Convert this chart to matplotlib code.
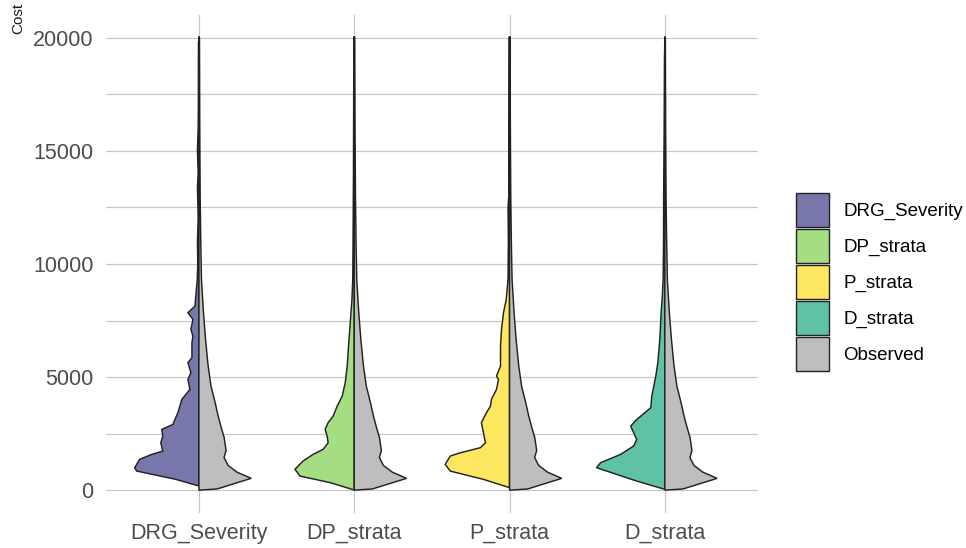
import numpy as np
import matplotlib
matplotlib.use("Agg")
import matplotlib.pyplot as plt
from matplotlib.patches import Patch

# ============================================================================
# DATOS (coste y densidad relativa de cada mitad)
# ============================================================================

modelos = ["DRG_Severity", "DP_strata", "P_strata", "D_strata"]
colores = ["#7877ac", "#a4dd82", "#fde660", "#5fc2a7"]
color_observado = "#bebebe"

coste_drg = [190, 485, 852, 1000, 1370, 1590, 1735, 2100, 2400, 2690, 2910,
             3430, 4020, 4460, 4900, 5200, 5640, 5860, 6520, 6810, 7110, 7550,
             7850, 8140, 9320, 10000, 11000, 12000, 13400, 14000, 15000,
             16000, 17000, 19800, 19900]
dens_drg = [0, 23, 62, 64, 59, 47, 36, 38, 36, 37, 26,
            21, 17, 9, 11, 8, 11, 7, 7, 6, 8, 6,
            11, 4, 1.7, 1.2, 1.5, 0.8, 1.5, 0.8, 1.5,
            0.8, 0.6, 0.5, 0]

coste_dp = [15, 340, 630, 930, 1295, 1590, 1810, 2100, 2400, 2690, 2990,
            3280, 3720, 4160, 4750, 5490, 6370, 7400, 8430, 9320, 11000,
            14000, 20000, 20050]
dens_dp = [0, 24, 54, 59, 51, 41, 31, 26, 27, 29, 26,
           21, 17, 12, 9, 7, 5.7, 4, 2.3, 1.5, 1.2,
           0.8, 0.4, 0]

coste_p = [120, 485, 850, 1150, 1515, 1660, 1885, 2100, 2550, 2990, 3430,
           3720, 4020, 4460, 4900, 5050, 5490, 6370, 7110, 7850, 8430, 9320,
           11000, 12500, 13000, 20000, 20050]
dens_p = [0, 26, 59, 64, 59, 49, 29, 24, 26, 28, 23,
          19, 18, 13, 11, 13, 9, 9, 8, 6, 3.3, 1.5,
          1.2, 1.5, 0.8, 0.4, 0]

coste_d = [45, 410, 1000, 1220, 1590, 1960, 2250, 2840, 3130, 3650, 4160,
           4600, 5050, 5640, 6670, 7850, 8430, 9320, 11000, 13000, 16000,
           19000, 20000]
dens_d = [0, 28, 68, 64, 44, 31, 28, 34, 28, 14, 13,
          11, 9, 7, 5, 3.7, 2.7, 1.7, 1.3, 1.2, 0.7,
          0.4, 0]

# Mitad derecha: costes observados (la misma en los cuatro violines)
coste_obs = [10, 60, 530, 800, 1100, 1450, 1760, 2350, 2800, 3300, 3900,
             4600, 5550, 6700, 7850, 9320, 11000, 13000, 16000, 20000, 20050]
dens_obs = [0, 18, 52, 38, 29, 25, 27, 25, 22, 19, 16,
            12, 9, 6.5, 4.5, 2.5, 1.8, 1.2, 0.8, 0.5, 0]

costes_modelo = [coste_drg, coste_dp, coste_p, coste_d]
dens_modelo = [dens_drg, dens_dp, dens_p, dens_d]

y_ticks = [0, 5000, 10000, 15000, 20000]
y_minor = [2500, 7500, 12500, 17500]


# ============================================================================
# FIGURA
# ============================================================================

def media_violin(ax, centro, coste, dens, lado, color, escala):
    """Dibuja media violín (lado=-1 izquierda, +1 derecha)."""
    coste = np.asarray(coste, dtype=float)
    ancho = np.asarray(dens, dtype=float) * escala
    xs = np.concatenate([[centro], centro + lado * ancho, [centro]])
    ys = np.concatenate([[coste[0]], coste, [coste[-1]]])
    ax.fill(xs, ys, facecolor=color, edgecolor="#222222", linewidth=1.05,
            zorder=3, joinstyle="miter")


fig = plt.figure(figsize=(9.66, 5.48), dpi=100)
ax = fig.add_axes([0.1095, 0.0639, 0.6752, 0.9087])

max_dens = max(max(d) for d in dens_modelo + [dens_obs])
escala = 0.44 / max_dens

for i, (nombre, color) in enumerate(zip(modelos, colores)):
    centro = i + 1
    media_violin(ax, centro, costes_modelo[i], dens_modelo[i], -1, color, escala)
    media_violin(ax, centro, coste_obs, dens_obs, 1, color_observado, escala)

ax.set_xlim(0.4, 4.6)
ax.set_ylim(-1000, 21000)
ax.set_xticks(range(1, len(modelos) + 1))
ax.set_xticklabels(modelos)
ax.set_yticks(y_ticks)
ax.set_yticks(y_minor, minor=True)

for s in ax.spines.values():
    s.set_visible(False)
ax.tick_params(which="both", length=0)
ax.tick_params(axis="y", pad=9)
ax.tick_params(axis="x", pad=7)
for lab in ax.get_xticklabels() + ax.get_yticklabels():
    lab.set_fontfamily("Liberation Sans")
    lab.set_fontsize(15.5)
    lab.set_color("#4d4d4d")

ax.grid(True, which="both", color="#c8c8c8", linewidth=0.9, zorder=0)
ax.set_axisbelow(True)

fig.text(18 / 966, 1 - 18 / 548, "Cost", rotation=90, ha="center", va="center",
         fontsize=11, family="Liberation Sans", color="#1a1a1a")

# Leyenda
handles = [Patch(facecolor=c, edgecolor="#222222", linewidth=1.0) for c in colores]
handles.append(Patch(facecolor=color_observado, edgecolor="#222222", linewidth=1.0))
etiquetas = modelos + ["Observed"]
fig.legend(handles, etiquetas, loc="center left",
           bbox_to_anchor=(796 / 966, 1 - 282 / 548), frameon=False,
           prop={"family": "Liberation Sans", "size": 13.5},
           handlelength=1.76, handleheight=2.42, labelspacing=0.1,
           handletextpad=0.75, borderpad=0, borderaxespad=0)

fig.savefig("out.png", dpi=100)
